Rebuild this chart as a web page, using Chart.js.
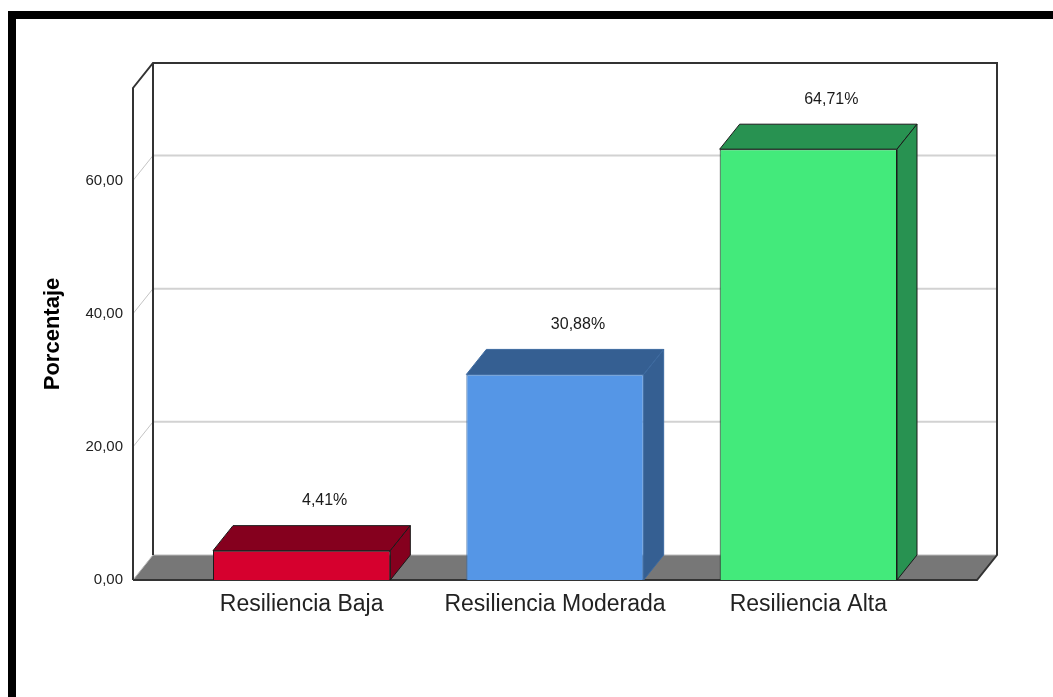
<!DOCTYPE html>
<html>
<head>
<meta charset="utf-8">
<script src="https://cdn.jsdelivr.net/npm/chart.js@4.4.1/dist/chart.umd.min.js"></script>
<style>
    body { margin: 0; background: #fff; }
    #grafico { display: block; }
</style>
</head>
<body>
<canvas id="grafico" width="1053" height="697"></canvas>
<script>
const categorias = ['Resiliencia Baja', 'Resiliencia Moderada', 'Resiliencia Alta'];
const porcentajes = [4.41, 30.88, 64.71];
const marcasEje = [0, 20, 40, 60];
const coloresFrente = ['#d6002e', '#5596e6', '#43ea7b'];
const coloresTapa = ['#85001e', '#355f92', '#289251'];
const bordes = ['#1a1a1a', '#3d6aa0', '#1a1a1a'];

// profundidad del efecto 3D y margen de las paredes fuera del area de barras
const PROF_X = 20;
const PROF_Y = 25;
const MARGEN = 42;

function formatoComa(v) {
    return v.toFixed(2).replace('.', ',');
}

const marco = {
    id: 'marco',
    beforeDraw(chart) {
        const ctx = chart.ctx;
        ctx.save();
        ctx.fillStyle = '#ffffff';
        ctx.fillRect(0, 0, chart.width, chart.height);
        ctx.fillStyle = '#000000';
        ctx.fillRect(8, 11, chart.width - 8, 8);
        ctx.fillRect(8, 11, 8, chart.height - 11);
        ctx.restore();
    }
};

const paredes = {
    id: 'paredes',
    beforeDatasetsDraw(chart) {
        const ctx = chart.ctx;
        const y = chart.scales.y;
        const area = chart.chartArea;
        const izq = area.left - MARGEN;
        const der = area.right + MARGEN;
        const abajo = y.getPixelForValue(0);
        const arriba = y.getPixelForValue(y.max);

        ctx.save();
        // lineas de cuadricula en la pared del fondo y en la lateral
        marcasEje.forEach(v => {
            if (v === 0) return;
            const py = y.getPixelForValue(v);
            ctx.strokeStyle = '#d2d2d2';
            ctx.lineWidth = 2;
            ctx.beginPath();
            ctx.moveTo(izq + PROF_X, py - PROF_Y);
            ctx.lineTo(der + PROF_X, py - PROF_Y);
            ctx.stroke();
            ctx.strokeStyle = '#c4c4c4';
            ctx.lineWidth = 1;
            ctx.beginPath();
            ctx.moveTo(izq, py);
            ctx.lineTo(izq + PROF_X, py - PROF_Y);
            ctx.stroke();
        });

        // suelo gris
        ctx.fillStyle = '#777777';
        ctx.beginPath();
        ctx.moveTo(izq, abajo);
        ctx.lineTo(der, abajo);
        ctx.lineTo(der + PROF_X, abajo - PROF_Y);
        ctx.lineTo(izq + PROF_X, abajo - PROF_Y);
        ctx.closePath();
        ctx.fill();
        ctx.strokeStyle = '#bbbbbb';
        ctx.lineWidth = 1;
        ctx.beginPath();
        ctx.moveTo(izq, abajo);
        ctx.lineTo(izq + PROF_X, abajo - PROF_Y);
        ctx.lineTo(der + PROF_X, abajo - PROF_Y);
        ctx.stroke();

        // contorno de las paredes
        ctx.strokeStyle = '#333333';
        ctx.lineWidth = 2;
        ctx.beginPath();
        ctx.moveTo(izq, abajo);
        ctx.lineTo(izq, arriba);
        ctx.lineTo(izq + PROF_X, arriba - PROF_Y);
        ctx.lineTo(der + PROF_X, arriba - PROF_Y);
        ctx.lineTo(der + PROF_X, abajo - PROF_Y);
        ctx.lineTo(der, abajo);
        ctx.lineTo(izq, abajo);
        ctx.moveTo(izq + PROF_X, arriba - PROF_Y);
        ctx.lineTo(izq + PROF_X, abajo - PROF_Y);
        ctx.stroke();
        ctx.restore();
    }
};

const barras3d = {
    id: 'barras3d',
    afterDatasetsDraw(chart) {
        const ctx = chart.ctx;
        const meta = chart.getDatasetMeta(0);
        ctx.save();
        meta.data.forEach((barra, i) => {
            const x0 = barra.x - barra.width / 2;
            const x1 = barra.x + barra.width / 2;
            const top = barra.y;
            const base = barra.base;
            ctx.fillStyle = coloresTapa[i];
            ctx.strokeStyle = bordes[i];
            ctx.lineWidth = 1;
            // tapa
            ctx.beginPath();
            ctx.moveTo(x0, top);
            ctx.lineTo(x0 + PROF_X, top - PROF_Y);
            ctx.lineTo(x1 + PROF_X, top - PROF_Y);
            ctx.lineTo(x1, top);
            ctx.closePath();
            ctx.fill();
            ctx.stroke();
            // lateral
            ctx.beginPath();
            ctx.moveTo(x1, top);
            ctx.lineTo(x1 + PROF_X, top - PROF_Y);
            ctx.lineTo(x1 + PROF_X, base - PROF_Y);
            ctx.lineTo(x1, base);
            ctx.closePath();
            ctx.fill();
            ctx.stroke();

            ctx.fillStyle = '#1a1a1a';
            ctx.font = '16px "Liberation Sans", Arial, sans-serif';
            ctx.textAlign = 'center';
            ctx.textBaseline = 'middle';
            ctx.fillText(formatoComa(porcentajes[i]) + '%', barra.x + 23, top - 50);
        });
        ctx.restore();
    }
};

new Chart(document.getElementById('grafico'), {
    type: 'bar',
    data: {
        labels: categorias,
        datasets: [{
            data: porcentajes,
            backgroundColor: coloresFrente,
            borderColor: bordes,
            borderWidth: 1,
            barPercentage: 0.7,
            categoryPercentage: 1
        }]
    },
    options: {
        responsive: false,
        animation: false,
        devicePixelRatio: 1,
        layout: { padding: { top: 88, right: 118, left: 0, bottom: 0 } },
        plugins: {
            legend: { display: false },
            tooltip: { enabled: false }
        },
        scales: {
            x: {
                grid: { display: false, drawTicks: false },
                border: { display: false },
                ticks: {
                    padding: 11,
                    color: '#222',
                    font: { family: '"Liberation Sans", Arial, sans-serif', size: 23 }
                },
                afterFit(scale) { scale.height = 117; }
            },
            y: {
                min: 0,
                max: 73.9,
                grid: { display: false, drawTicks: false },
                border: { display: false },
                afterBuildTicks(scale) {
                    scale.ticks = marcasEje.map(v => ({ value: v }));
                },
                ticks: {
                    padding: 52,
                    color: '#222',
                    font: { family: '"Liberation Sans", Arial, sans-serif', size: 15 },
                    callback: v => formatoComa(v)
                },
                title: {
                    display: true,
                    text: 'Porcentaje',
                    color: '#000',
                    padding: { top: 40, bottom: 0 },
                    font: { family: '"Liberation Sans", Arial, sans-serif', size: 22, weight: 'bold' }
                },
                afterFit(scale) { scale.width = 175; }
            }
        }
    },
    plugins: [marco, paredes, barras3d]
});
</script>
</body>
</html>
